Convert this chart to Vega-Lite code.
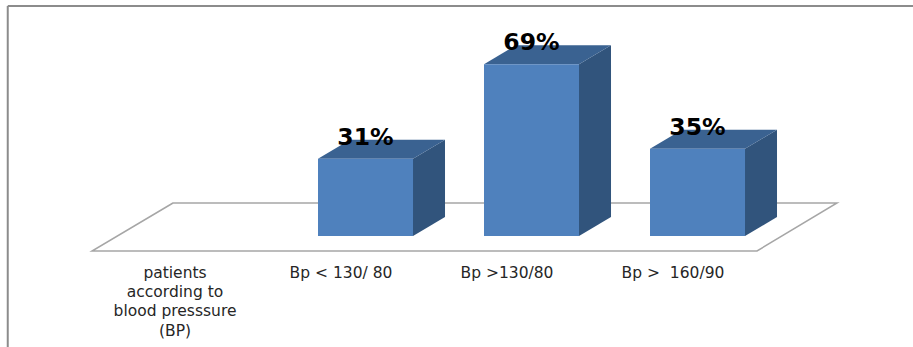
{
  "$schema": "https://vega.github.io/schema/vega-lite/v6.json",
  "width": 913,
  "height": 347,
  "padding": 0,
  "autosize": "none",
  "background": "white",
  "config": {"view": {"stroke": null}},
  "datasets": {
    "categories": [
      {"category": "patients\naccording to\nblood presssure\n(BP)", "slot": 0, "share": null},
      {"category": "Bp < 130/ 80", "slot": 1, "share": 0.31},
      {"category": "Bp >130/80", "slot": 2, "share": 0.69},
      {"category": "Bp >\u00a0 160/90", "slot": 3, "share": 0.35}
    ],
    "floor": [
      {"level": -0.0602, "from": -0.3614, "to": 3.6446},
      {"level": 0.1325, "from": 0.1265, "to": 4.1265}
    ],
    "frame": [
      {"left": -0.869, "right": 4.5843, "top": 0.9237, "bottom": -0.4458}
    ]
  },
  "encoding": {
    "x": {"type": "quantitative", "scale": {"domain": [-0.9157, 4.5843], "nice": false, "zero": false}, "axis": null},
    "y": {"type": "quantitative", "scale": {"domain": [-0.4458, 0.9478], "nice": false, "zero": false}, "axis": null}
  },
  "layer": [
    {
      "description": "Frame line along the top",
      "data": {"name": "frame"},
      "mark": {"type": "rule", "color": "#8c8c8c", "strokeWidth": 2},
      "encoding": {
        "x": {"field": "left", "type": "quantitative"},
        "x2": {"field": "right"},
        "y": {"field": "top", "type": "quantitative"}
      }
    },
    {
      "description": "Frame line down the left",
      "data": {"name": "frame"},
      "mark": {"type": "rule", "color": "#8c8c8c", "strokeWidth": 2},
      "encoding": {
        "x": {"field": "left", "type": "quantitative"},
        "y": {"field": "top", "type": "quantitative"},
        "y2": {"field": "bottom"}
      }
    },
    {
      "description": "Floor plane",
      "data": {"name": "floor"},
      "mark": {"type": "area", "orient": "horizontal", "fill": "white", "stroke": "#a6a6a6", "strokeWidth": 1.5},
      "encoding": {
        "y": {"field": "level", "type": "quantitative"},
        "x": {"field": "from", "type": "quantitative"},
        "x2": {"field": "to"}
      }
    },
    {
      "description": "Right side of each box",
      "data": {"name": "categories"},
      "transform": [
        {"filter": "isValid(datum.share)"},
        {"calculate": "[0, 1]", "as": "edge"},
        {"flatten": ["edge"]},
        {"calculate": "datum.slot + 0.5723 + datum.edge * 0.1928", "as": "sx"},
        {"calculate": "datum.share + datum.edge * 0.0763", "as": "sTop"},
        {"calculate": "datum.edge * 0.0763", "as": "sBase"}
      ],
      "mark": {"type": "area", "orient": "vertical", "fill": "#31547c"},
      "encoding": {
        "x": {"field": "sx", "type": "quantitative"},
        "y": {"field": "sTop", "type": "quantitative"},
        "y2": {"field": "sBase"},
        "detail": {"field": "category"}
      }
    },
    {
      "description": "Top of each box",
      "data": {"name": "categories"},
      "transform": [
        {"filter": "isValid(datum.share)"},
        {"calculate": "[0, 1]", "as": "edge"},
        {"flatten": ["edge"]},
        {"calculate": "datum.slot + datum.edge * 0.1928", "as": "tLeft"},
        {"calculate": "datum.slot + 0.5723 + datum.edge * 0.1928", "as": "tRight"},
        {"calculate": "datum.share + datum.edge * 0.0763", "as": "tLevel"}
      ],
      "mark": {"type": "area", "orient": "horizontal", "fill": "#3a6291"},
      "encoding": {
        "y": {"field": "tLevel", "type": "quantitative"},
        "x": {"field": "tLeft", "type": "quantitative"},
        "x2": {"field": "tRight"},
        "detail": {"field": "category"}
      }
    },
    {
      "description": "Front of each box",
      "data": {"name": "categories"},
      "transform": [
        {"filter": "isValid(datum.share)"},
        {"calculate": "datum.slot + 0.5723", "as": "right"}
      ],
      "mark": {"type": "rect", "fill": "#4f81bd"},
      "encoding": {
        "x": {"field": "slot", "type": "quantitative"},
        "x2": {"field": "right"},
        "y": {"field": "share", "type": "quantitative"},
        "y2": {"datum": 0}
      }
    },
    {
      "description": "Percentage above each box",
      "data": {"name": "categories"},
      "transform": [
        {"filter": "isValid(datum.share)"},
        {"calculate": "datum.slot + 0.2861", "as": "mid"}
      ],
      "mark": {"type": "text", "font": "DejaVu Sans", "fontWeight": "bold", "fontSize": 23.5, "color": "black", "align": "center", "baseline": "alphabetic", "dy": -14},
      "encoding": {
        "x": {"field": "mid", "type": "quantitative"},
        "y": {"field": "share", "type": "quantitative"},
        "text": {"field": "share", "type": "quantitative", "format": ".0%"}
      }
    },
    {
      "description": "Category labels under the floor",
      "data": {"name": "categories"},
      "mark": {"type": "text", "font": "DejaVu Sans", "fontSize": 15.5, "color": "#262626", "align": "center", "baseline": "top", "lineBreak": "\n", "lineHeight": 19.4, "dx": 23},
      "encoding": {
        "x": {"field": "slot", "type": "quantitative"},
        "y": {"datum": -0.1185, "type": "quantitative"},
        "text": {"field": "category"}
      }
    }
  ]
}
